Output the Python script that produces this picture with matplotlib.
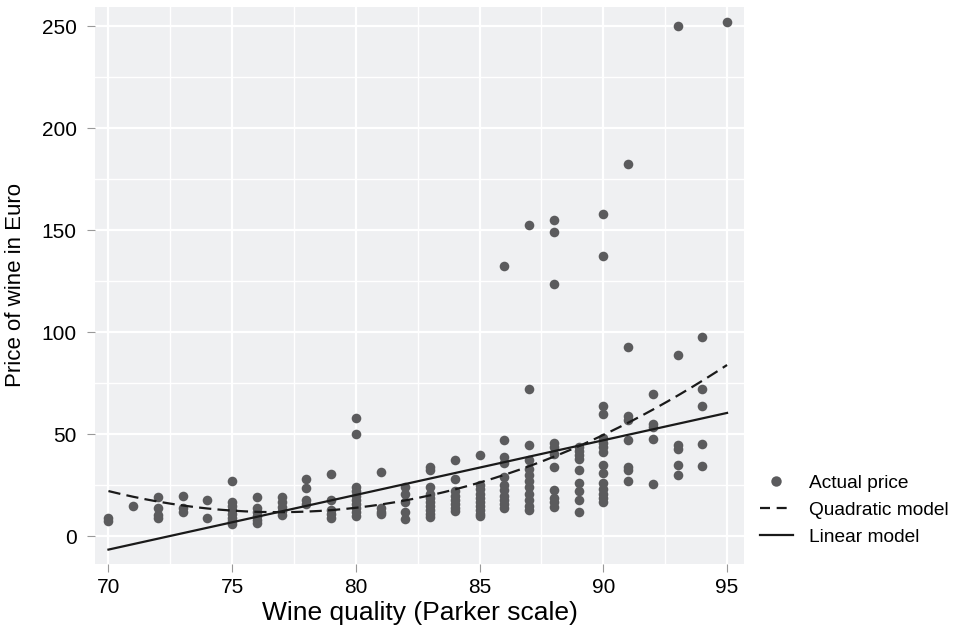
import numpy as np
import matplotlib.pyplot as plt
from matplotlib.lines import Line2D

plt.rcParams['font.family'] = ['Liberation Sans', 'DejaVu Sans']

# wine quality (Parker points) and price in euro
quality = ([70, 70, 71, 72, 72, 72, 72, 73, 73, 73, 74, 74]
           + [75] * 8 + [76] * 6 + [77] * 5 + [78] * 4 + [79] * 5
           + [80] * 10 + [81] * 4 + [82] * 5 + [83] * 10 + [84] * 8
           + [85] * 10 + [86] * 11 + [87] * 12 + [88] * 11 + [89] * 9
           + [90] * 15 + [91] * 8 + [92] * 5 + [93] * 6 + [94] * 5 + [95])
price = ([7.5, 9, 15, 19.5, 14, 10.5, 9, 20, 14, 12, 18, 9]
         + [27, 17, 15, 13, 11, 9, 7.5, 6]
         + [19.5, 14, 12, 10, 8, 6.5]
         + [19.5, 17, 14.5, 12.5, 10.5]
         + [28, 23.5, 18, 16]
         + [30.5, 18, 13, 11, 9]
         + [58, 50, 24, 22, 20, 18, 16, 14, 12, 10]
         + [31.5, 14, 12, 11]
         + [24, 21, 17, 12, 8.5]
         + [34, 32.5, 24, 21, 19, 17, 15, 13, 11, 9.5]
         + [37.5, 28, 22, 20, 18, 16, 14, 12.5]
         + [40, 25, 23, 21, 19, 17, 15, 13, 11, 10]
         + [132.5, 47, 39, 36, 29, 25, 22.5, 20, 18, 16, 14]
         + [152.5, 72, 45, 37.5, 33, 30, 27, 24, 21, 18, 15, 13]
         + [155, 149, 123.5, 46, 44, 40.5, 34, 22.5, 19, 17, 14.5]
         + [44, 42, 40, 38, 32.5, 26, 22, 18, 12]
         + [158, 137.5, 64, 60, 48, 46, 44, 41.5, 35, 31, 26, 23, 21, 19, 17]
         + [182.5, 93, 59, 57, 47, 34, 32.5, 27]
         + [70, 55, 53.5, 47.5, 25.5]
         + [250, 89, 45, 43, 35, 30]
         + [97.5, 72, 64, 45.5, 34.5]
         + [252])

# fitted model values
lin_x = [70, 95]
lin_y = [-6.5, 60.5]
quad_x = [70, 80, 95]
quad_y = [22.2, 14.0, 84.0]

xs = np.linspace(70, 95, 200)
lin = np.polyval(np.polyfit(lin_x, lin_y, 1), xs)
quad = np.polyval(np.polyfit(quad_x, quad_y, 2), xs)

fig = plt.figure(figsize=(9.58, 6.35), dpi=100)
ax = fig.add_axes([0.099, 0.112, 0.678, 0.877])
ax.set_facecolor('#eff0f2')

ax.scatter(quality, price, s=48, color='#5b5b5d', linewidths=0, zorder=3)
ax.plot(xs, quad, color='#1a1a1a', lw=1.6, dashes=(5.5, 2.8), zorder=4)
ax.plot(xs, lin, color='#1a1a1a', lw=1.6, zorder=4)

ax.set_xlim(69.45, 95.7)
ax.set_ylim(-13.5, 259.5)
ax.set_xticks([70, 75, 80, 85, 90, 95])
ax.set_yticks([0, 50, 100, 150, 200, 250])
ax.set_xticks(np.arange(72.5, 95, 5), minor=True)
ax.set_yticks(np.arange(25, 250, 50), minor=True)
ax.grid(True, which='major', color='white', lw=1.6, zorder=0)
ax.grid(True, which='minor', color='white', lw=1.0, zorder=0)
ax.set_axisbelow(True)
for s in ax.spines.values():
    s.set_visible(False)
ax.tick_params(which='major', length=6, color='#999999', labelsize=15)
ax.tick_params(axis='x', pad=4)
ax.tick_params(axis='y', pad=7)
ax.tick_params(which='minor', length=0)

ax.set_xlabel('Wine quality (Parker scale)', fontsize=19, labelpad=3)
ax.set_ylabel('Price of wine in Euro', fontsize=16, labelpad=11)

handles = [Line2D([], [], ls='none', marker='o', ms=7.5, color='#5b5b5d', mec='none'),
           Line2D([], [], color='#1a1a1a', lw=1.6, dashes=(4.5, 3)),
           Line2D([], [], color='#1a1a1a', lw=1.6)]
fig.legend(handles, ['Actual price', 'Quadratic model', 'Linear model'],
           loc='center left', bbox_to_anchor=(0.775, 0.197), frameon=False,
           fontsize=13.8, handlelength=1.75, handletextpad=0.8, labelspacing=0.5)

fig.savefig('out.png', dpi=100)
